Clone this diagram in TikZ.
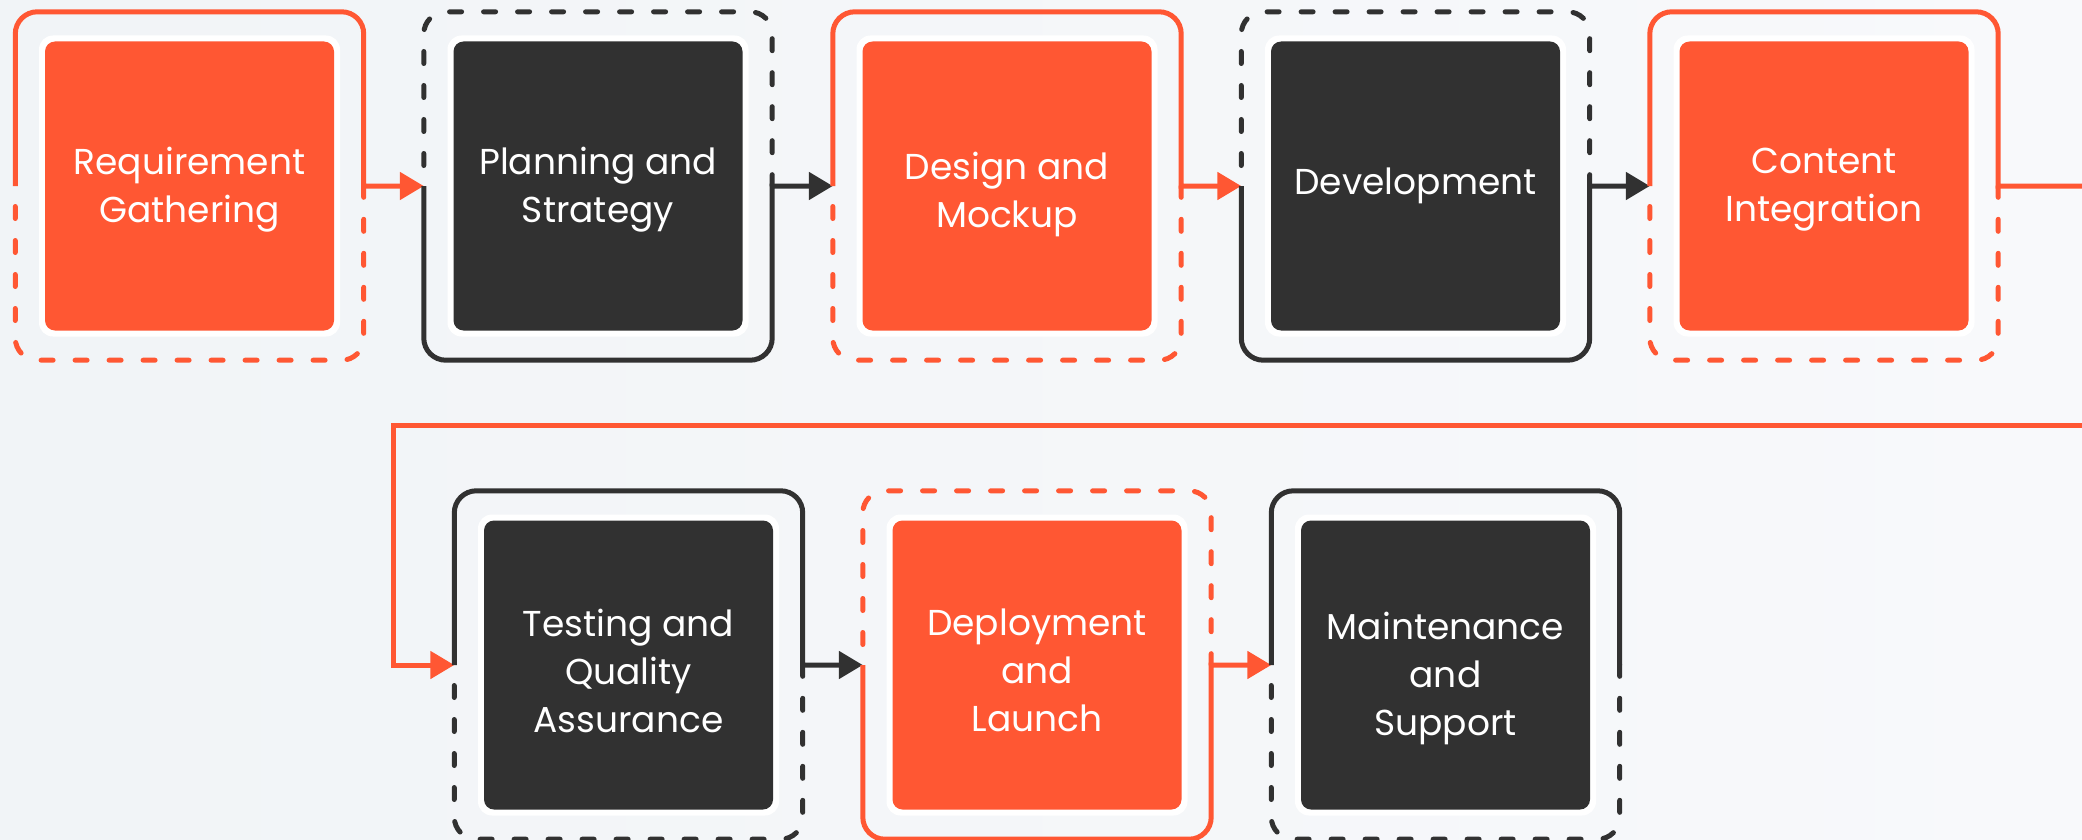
\documentclass[tikz,border=0pt]{standalone}
\usepackage{fontspec}
\setmainfont{Poppins}
\usetikzlibrary{arrows.meta}
\definecolor{orng}{HTML}{FF5733}
\definecolor{drk}{HTML}{313131}
\definecolor{bgl}{HTML}{F1F4F7}
\definecolor{bgr}{HTML}{F8F9FB}
\begin{document}
\begin{tikzpicture}[x=1pt,y=-1pt,
  stepbox/.style={minimum width=289pt,minimum height=289pt,rounded corners=10pt,inner sep=0pt},
  obox/.style={stepbox,fill=orng},
  dbox/.style={stepbox,fill=drk},
  lbl/.style={text=white,align=center,font=\fontsize{36}{48}\selectfont,inner sep=0pt},
  halo/.style={minimum width=301pt,minimum height=301pt,rounded corners=14pt,fill=white,inner sep=0pt},
  frm/.style={minimum width=348pt,minimum height=348pt,inner sep=0pt},
  solidline/.style={line width=5pt,rounded corners=22pt},
  dashline/.style={line width=5pt,rounded corners=22pt,line cap=round,dash pattern=on 12pt off 22pt,dash phase=13.5pt},
  arr/.style={-{Triangle[length=24pt,width=27pt]}}
]
\useasboundingbox (0,0) rectangle (2082,840);
\shade[left color=bgl,right color=bgr] (0,0) rectangle (2082,840);

% halos
\foreach \x/\y/\n in {189.5/186/1,598/186/2,1007/186/3,1415.5/186/4,1824/186/5,628.5/665/6,1037/665/7,1445.5/665/8}
  \node[halo] (h\n) at (\x,\y) {};

% boxes
\node[obox] (b1) at (h1) {};
\node[dbox] (b2) at (h2) {};
\node[obox] (b3) at (h3) {};
\node[dbox] (b4) at (h4) {};
\node[obox] (b5) at (h5) {};
\node[dbox] (b6) at (h6) {};
\node[obox] (b7) at (h7) {};
\node[dbox] (b8) at (h8) {};

% labels
\node[lbl] (t1) at ([yshift=-4pt]b1) {Requirement\\Gathering};
\node[lbl] (t2) at ([yshift=-4pt]b2) {Planning and\\Strategy};
\node[lbl] (t3) at ([yshift=-8pt]b3) {Design and\\Mockup};
\node[lbl] (t4) at (b4) {Development};
\node[lbl] (t5) at ([yshift=-4pt]b5) {Content\\Integration};
\node[lbl] (t6) at ([yshift=-6pt]b6) {Testing and\\Quality\\Assurance};
\node[lbl] (t7) at ([yshift=-5pt]b7) {Deployment\\and\\Launch};
\node[lbl] (t8) at ([yshift=-13pt]b8) {Maintenance\\and\\Support};

% frames
\foreach \n in {1,...,8}
  \node[frm] (f\n) at (h\n) {};

\coordinate (exitA) at (2086,186);
\coordinate (entryB) at (2086,425);
\coordinate (bend) at (393,425);

% row 1
\draw[orng,solidline,arr] (f1.west) |- (f1.north) -| ([yshift=40pt]f1.east) [sharp corners] -- (f1.east) -- (f2.west);
\draw[orng,dashline] (f1.west) |- (f1.south) -| (f1.east);
\draw[drk,solidline,arr] (f2.west) |- (f2.south) -| ([yshift=-40pt]f2.east) [sharp corners] -- (f2.east) -- (f3.west);
\draw[drk,dashline] (f2.west) |- (f2.north) -| (f2.east);
\draw[orng,solidline,arr] (f3.west) |- (f3.north) -| ([yshift=40pt]f3.east) [sharp corners] -- (f3.east) -- (f4.west);
\draw[orng,dashline] (f3.west) |- (f3.south) -| (f3.east);
\draw[drk,solidline,arr] (f4.west) |- (f4.south) -| ([yshift=-40pt]f4.east) [sharp corners] -- (f4.east) -- (f5.west);
\draw[drk,dashline] (f4.west) |- (f4.north) -| (f4.east);
\draw[orng,solidline] (f5.west) |- (f5.north) -| ([yshift=40pt]f5.east) [sharp corners] -- (f5.east) -- (exitA);
\draw[orng,dashline] (f5.west) |- (f5.south) -| (f5.east);

% return line
\draw[orng,line width=5pt,arr] (entryB) -- (bend) |- (f6.west);

% row 2
\draw[drk,solidline,arr] (f6.west) |- (f6.north) -| ([yshift=40pt]f6.east) [sharp corners] -- (f6.east) -- (f7.west);
\draw[drk,dashline] (f6.west) |- (f6.south) -| (f6.east);
\draw[orng,solidline,arr] (f7.west) |- (f7.south) -| ([yshift=-40pt]f7.east) [sharp corners] -- (f7.east) -- (f8.west);
\draw[orng,dashline] (f7.west) |- (f7.north) -| (f7.east);
\draw[drk,solidline] (f8.west) |- (f8.north) -| (f8.east);
\draw[drk,dashline] (f8.west) |- (f8.south) -| (f8.east);
\end{tikzpicture}
\end{document}
